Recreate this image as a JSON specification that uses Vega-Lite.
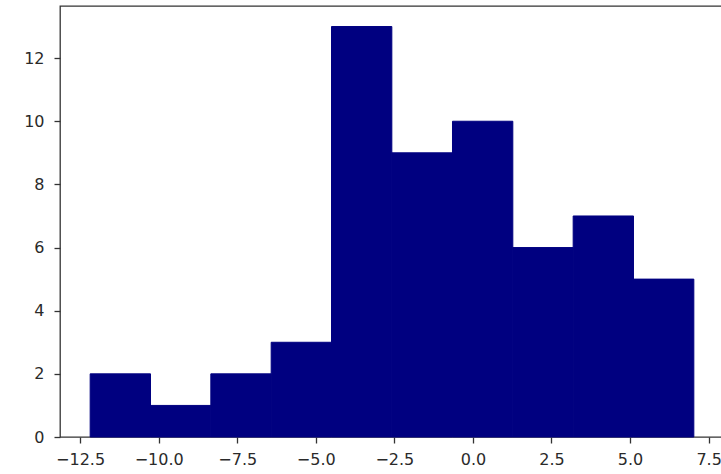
{
  "$schema": "https://vega.github.io/schema/vega-lite/v6.json",
  "autosize": {"type": "none"},
  "padding": {"left": 60, "top": 6, "right": -3, "bottom": 37},
  "width": 664,
  "height": 431,
  "background": "white",
  "config": {
    "view": {"stroke": "#333333", "strokeWidth": 1.3},
    "axis": {
      "labelFont": "DejaVu Sans",
      "labelFontSize": 16,
      "labelColor": "#2a2a2a",
      "tickColor": "#333333",
      "tickSize": 6,
      "tickWidth": 1.3,
      "domain": false,
      "grid": false,
      "title": null
    }
  },
  "data": {
    "values": [
      {"bin_start": -12.18, "bin_end": -10.26, "count": 2},
      {"bin_start": -10.26, "bin_end": -8.34, "count": 1},
      {"bin_start": -8.34, "bin_end": -6.42, "count": 2},
      {"bin_start": -6.42, "bin_end": -4.50, "count": 3},
      {"bin_start": -4.50, "bin_end": -2.58, "count": 13},
      {"bin_start": -2.58, "bin_end": -0.65, "count": 9},
      {"bin_start": -0.65, "bin_end": 1.27, "count": 10},
      {"bin_start": 1.27, "bin_end": 3.19, "count": 6},
      {"bin_start": 3.19, "bin_end": 5.11, "count": 7},
      {"bin_start": 5.11, "bin_end": 7.03, "count": 5}
    ]
  },
  "mark": {"type": "rect", "color": "#000080", "stroke": "#000080", "strokeWidth": 1},
  "encoding": {
    "x": {
      "field": "bin_start",
      "type": "quantitative",
      "scale": {"domain": [-13.14, 7.99], "nice": false, "zero": false},
      "axis": {
        "values": [-12.5, -10, -7.5, -5, -2.5, 0, 2.5, 5, 7.5],
        "format": ".1f",
        "labelPadding": 8,
        "labelFlush": false
      }
    },
    "x2": {"field": "bin_end"},
    "y": {
      "field": "count",
      "type": "quantitative",
      "scale": {"domain": [0, 13.65], "nice": false},
      "axis": {"values": [0, 2, 4, 6, 8, 10, 12], "labelPadding": 10, "labelFlush": false}
    },
    "y2": {"datum": 0}
  }
}
